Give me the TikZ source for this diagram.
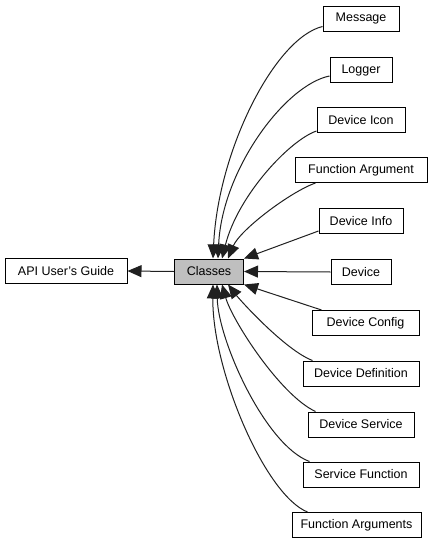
\documentclass[tikz,border=0pt]{standalone}
\usepackage{fontspec}
\setmainfont{Liberation Sans}
\definecolor{grpgray}{RGB}{191,191,191}
\definecolor{edgegray}{RGB}{32,32,32}
\usetikzlibrary{arrows.meta}

\begin{document}
\begin{tikzpicture}[x=1pt,y=-1pt,>={Triangle[length=14pt,width=12pt]},
  grpbox/.style={draw=black,line width=1pt,fill=white,minimum height=25pt,
                 inner sep=0pt,font=\fontsize{12.5}{14}\selectfont},
  dep/.style={->,line width=1pt,edgegray}]
  \useasboundingbox (0,0) rectangle (436,544);
  %% Main group and parent page
  \node[grpbox,minimum width=122pt] (guide) at (66,271) {API User's Guide};
  \node[grpbox,fill=grpgray,minimum width=69pt] (classes) at (209,271.5) {Classes};
  %% Member groups
  \node[grpbox,minimum width=76pt]  (msg)    at (361,18.5)  {Message};
  \node[grpbox,minimum width=62pt]  (logger) at (361,70)    {Logger};
  \node[grpbox,minimum width=88pt]  (icon)   at (361,120)   {Device Icon};
  \node[grpbox,minimum width=132pt] (farg)   at (361,170)   {Function Argument};
  \node[grpbox,minimum width=84pt]  (info)   at (361,221)   {Device Info};
  \node[grpbox,minimum width=60pt]  (device) at (361,272)   {Device};
  \node[grpbox,minimum width=107pt] (config) at (365.5,323) {Device Config};
  \node[grpbox,minimum width=116pt] (ddef)   at (361,373.5) {Device Definition};
  \node[grpbox,minimum width=106pt] (dserv)  at (361,424.5) {Device Service};
  \node[grpbox,minimum width=116pt] (sfunc)  at (361,474.5) {Service Function};
  \node[grpbox,minimum width=129pt] (fargs)  at (356.5,525) {Function Arguments};
  %% Links
  \draw[dep] (classes.west) -- (guide.east);
  \draw[dep] ([yshift=5pt]msg.south west) .. controls (275,38) and (218,150) .. ([xshift=4pt]classes.north);
  \draw[dep] ([yshift=7pt]logger.south west) .. controls (285,85) and (222,170) .. ([xshift=9pt]classes.north);
  \draw[dep] ([yshift=2pt]icon.south west) .. controls (290,140) and (238,195) .. ([xshift=13pt]classes.north);
  \draw[dep] ([xshift=21pt]farg.south west) .. controls (290,192) and (240,230) .. ([xshift=19pt]classes.north);
  \draw[dep] ([yshift=3pt]info.south west) -- (classes.north east);
  \draw[dep] (device.west) -- (classes.east);
  \draw[dep] ([xshift=10pt]config.north west) -- (classes.south east);
  \draw[dep] ([xshift=10pt]ddef.north west) .. controls (285,350) and (240,300) .. ([xshift=19pt]classes.south);
  \draw[dep] ([xshift=8pt]dserv.north west) .. controls (280,395) and (232,320) .. ([xshift=13pt]classes.south);
  \draw[dep] ([xshift=7pt]sfunc.north west) .. controls (265,445) and (218,340) .. ([xshift=8pt]classes.south);
  \draw[dep] ([xshift=16pt]fargs.north west) .. controls (265,495) and (212,370) .. ([xshift=4pt]classes.south);
\end{tikzpicture}
\end{document}
